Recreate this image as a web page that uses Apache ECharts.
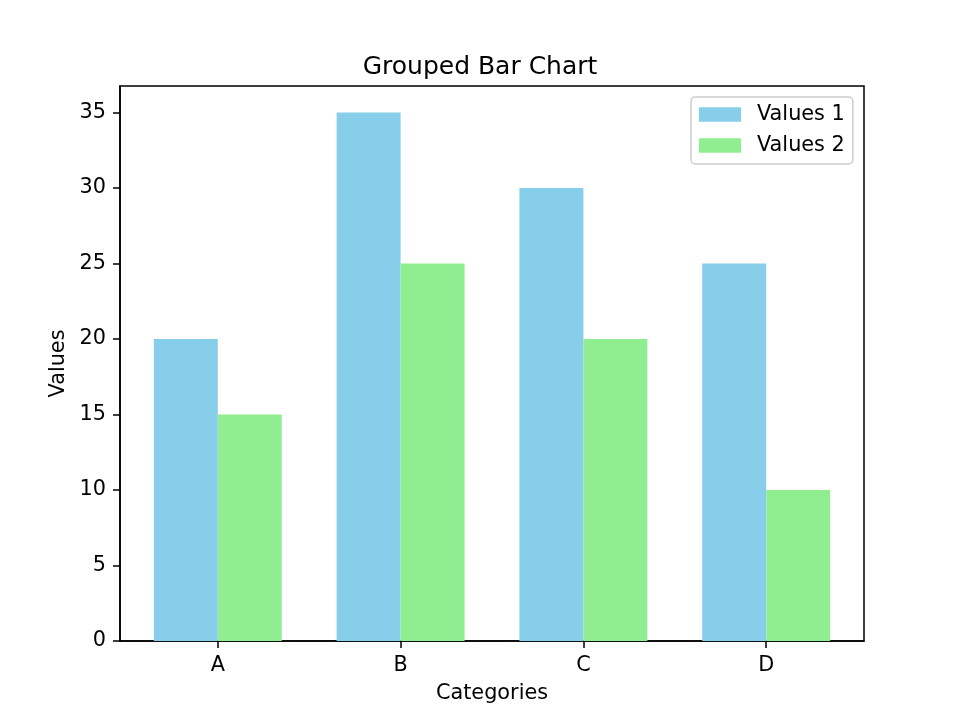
<!DOCTYPE html>
<html>
<head>
<meta charset="utf-8">
<script src="https://cdn.jsdelivr.net/npm/echarts@6/dist/echarts.min.js"></script>
<style>html,body{margin:0;padding:0;background:#fff}#c{width:960px;height:720px}</style>
</head>
<body>
<div id="c"></div>
<script>
const categories = ['A', 'B', 'C', 'D'];
const values1 = [20, 35, 30, 25];
const values2 = [15, 25, 20, 10];
const yTicks = [0, 5, 10, 15, 20, 25, 30, 35];

const font = 'DejaVu Sans';
const chart = echarts.init(document.getElementById('c'), null, {renderer: 'canvas'});
const catIdx = categories.map((c, i) => i);
chart.setOption({
  animation: false,
  backgroundColor: '#ffffff',
  textStyle: {fontFamily: font},
  title: {
    text: 'Grouped Bar Chart',
    left: 'center',
    top: 55,
    padding: 0,
    textStyle: {fontFamily: font, fontSize: 25, fontWeight: 'normal', color: '#000'}
  },
  legend: {
    orient: 'vertical',
    left: 691,
    top: 97,
    padding: [7, 8, 8, 8],
    itemGap: 10,
    itemWidth: 42,
    itemHeight: 14.6,
    borderColor: '#cccccc',
    borderWidth: 1.5,
    borderRadius: 4,
    backgroundColor: '#ffffff',
    icon: 'rect',
    textStyle: {fontFamily: font, fontSize: 20.8, color: '#000', padding: [0, 0, 0, 11]},
    data: ['Values 1', 'Values 2']
  },
  grid: {
    left: 120, top: 86, width: 744, height: 555,
    show: true, borderColor: '#000', borderWidth: 1.5, backgroundColor: 'transparent',
    containLabel: false
  },
  xAxis: {
    type: 'value',
    min: -0.535,
    max: 3.535,
    name: 'Categories',
    nameLocation: 'middle',
    nameGap: 42,
    nameTextStyle: {fontFamily: font, fontSize: 20.8, color: '#000'},
    splitLine: {show: false},
    axisLine: {show: true, onZero: false, lineStyle: {color: '#000', width: 1.5}},
    axisTick: {show: true, length: 7, lineStyle: {color: '#000', width: 1.5}, customValues: catIdx},
    axisLabel: {
      customValues: catIdx,
      margin: 14,
      fontFamily: font, fontSize: 20.8, color: '#000',
      formatter: v => categories[Math.round(v)] ?? ''
    }
  },
  yAxis: {
    type: 'value',
    min: 0,
    max: 36.75,
    interval: 5,
    name: 'Values',
    nameLocation: 'middle',
    nameGap: 48,
    nameRotate: 90,
    nameTextStyle: {fontFamily: font, fontSize: 20.8, color: '#000'},
    splitLine: {show: false},
    axisLine: {show: true, onZero: false, lineStyle: {color: '#000', width: 1.5}},
    axisTick: {show: true, length: 7, lineStyle: {color: '#000', width: 1.5}, customValues: yTicks},
    axisLabel: {customValues: yTicks, margin: 14, padding: [7, 0, 0, 0], fontFamily: font, fontSize: 20.8, color: '#000'}
  },
  series: [
    {
      name: 'Values 1', type: 'bar', barWidth: '35%', barGap: '0%',
      itemStyle: {color: '#87CEEB'},
      data: values1.map((v, i) => [i, v])
    },
    {
      name: 'Values 2', type: 'bar', barWidth: '35%', barGap: '0%',
      itemStyle: {color: '#90EE90'},
      data: values2.map((v, i) => [i, v])
    }
  ]
});
</script>
</body>
</html>
